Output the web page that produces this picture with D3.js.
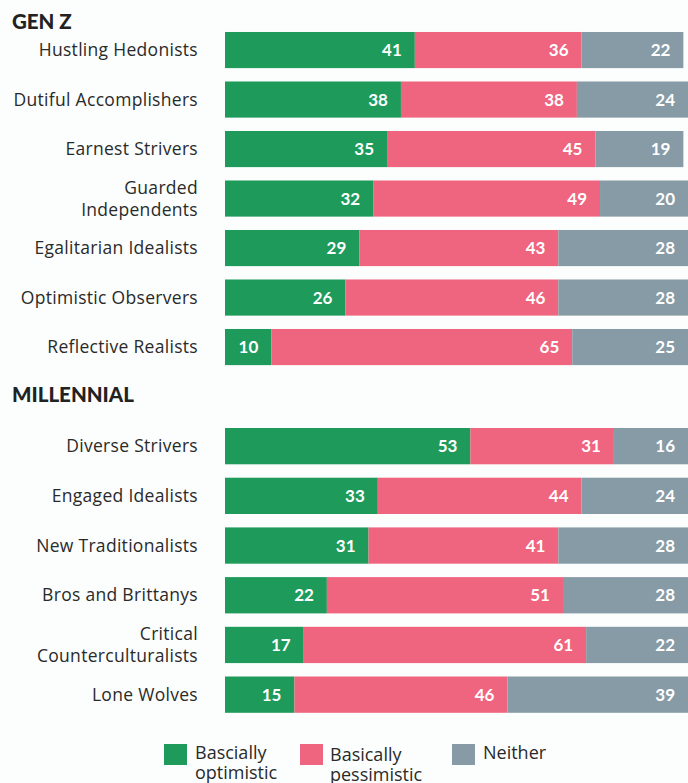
<!DOCTYPE html>
<html>
<head>
<meta charset="utf-8">
<script src="https://cdn.jsdelivr.net/npm/d3@7"></script>
<style>
  body { margin: 0; background: #fbfefd; }
  svg text { font-family: "Lato", "Open Sans", sans-serif; }
  svg text.lbl { font-family: "Open Sans", "Lato", sans-serif; }
</style>
</head>
<body>
<div id="chart"></div>
<script>
var genzNames = ["Hustling Hedonists", "Dutiful Accomplishers", "Earnest Strivers", "Guarded|Independents",
  "Egalitarian Idealists", "Optimistic Observers", "Reflective Realists"];
var genzOpt = [41, 38, 35, 32, 29, 26, 10];
var genzPess = [36, 38, 45, 49, 43, 46, 65];
var genzNeither = [22, 24, 19, 20, 28, 28, 25];

var millNames = ["Diverse Strivers", "Engaged Idealists", "New Traditionalists", "Bros and Brittanys",
  "Critical|Counterculturalists", "Lone Wolves"];
var millOpt = [53, 33, 31, 22, 17, 15];
var millPess = [31, 44, 41, 51, 61, 46];
var millNeither = [16, 24, 28, 28, 22, 39];

var legendLabels = ["Bascially|optimistic", "Basically|pessimistic", "Neither"];
var colors = ["#1e9a5a", "#ef647e", "#869ba6"];

var width = 688, height = 783;

var svg = d3.select("#chart").append("svg")
  .attr("width", width)
  .attr("height", height);

var x = d3.scaleLinear().domain([0, 100]).range([225, 688]);

var groups = [
  { title: "GEN Z", titleY: 29, range: [25.3, 371.8], names: genzNames, opt: genzOpt, pess: genzPess, nei: genzNeither },
  { title: "MILLENNIAL", titleY: 402, range: [421.3, 719.5], names: millNames, opt: millOpt, pess: millPess, nei: millNeither }
];

groups.forEach(function(g) {
  var data = g.names.map(function(n, i) {
    return { name: n, vals: [g.opt[i], g.pess[i], g.nei[i]] };
  });

  var y = d3.scaleBand()
    .domain(g.names)
    .range(g.range)
    .paddingInner(0.27)
    .paddingOuter(0.135);

  svg.append("text")
    .attr("x", 12)
    .attr("y", g.titleY)
    .attr("fill", "#222")
    .style("font-size", "20.5px")
    .style("font-weight", "900")
    .text(g.title);

  var rows = svg.append("g").selectAll("g")
    .data(data)
    .enter()
    .append("g");

  // labels, two-liners split on "|"
  rows.each(function(d) {
    var lines = d.name.split("|");
    var cy = y(d.name) + y.bandwidth() / 2;
    var t = d3.select(this).append("text")
      .attr("class", "lbl")
      .attr("text-anchor", "end")
      .attr("fill", "#2a2a2a")
      .style("font-size", "17.5px")
      .style("letter-spacing", "0.3px");
    lines.forEach(function(l, i) {
      t.append("tspan")
        .attr("x", 198)
        .attr("y", cy + 6 + (i - (lines.length - 1) / 2) * 22)
        .text(l);
    });
  });

  rows.each(function(d) {
    var row = d3.select(this);
    var start = 0;
    d.vals.forEach(function(v, i) {
      row.append("rect")
        .attr("x", x(start))
        .attr("y", y(d.name))
        .attr("width", x(start + v) - x(start))
        .attr("height", y.bandwidth())
        .attr("fill", colors[i]);
      row.append("text")
        .attr("x", Math.min(x(start + v), width) - 13)
        .attr("y", y(d.name) + y.bandwidth() / 2 + 6)
        .attr("text-anchor", "end")
        .attr("fill", "#fff")
        .style("font-size", "17px")
        .style("font-weight", "bold")
        .text(v);
      start += v;
    });
  });
});

// legend
var legendX = [164, 300, 452];
var legend = svg.append("g")
  .selectAll("g")
  .data(legendLabels)
  .enter()
  .append("g")
  .attr("transform", function(d, i) { return "translate(" + legendX[i] + ",744)"; });

legend.append("rect")
  .attr("width", 23)
  .attr("height", 21)
  .attr("fill", function(d, i) { return colors[i]; });

legend.append("text")
  .attr("class", "lbl")
  .attr("fill", "#2a2a2a")
  .style("font-size", "18px")
  .each(function(d, i) {
    var t = d3.select(this);
    d.split("|").forEach(function(l, j) {
      t.append("tspan")
        .attr("x", i == 1 ? 30 : 31)
        .attr("y", (i == 1 ? 17 : 15) + j * 20)
        .text(l);
    });
  });
</script>
</body>
</html>
